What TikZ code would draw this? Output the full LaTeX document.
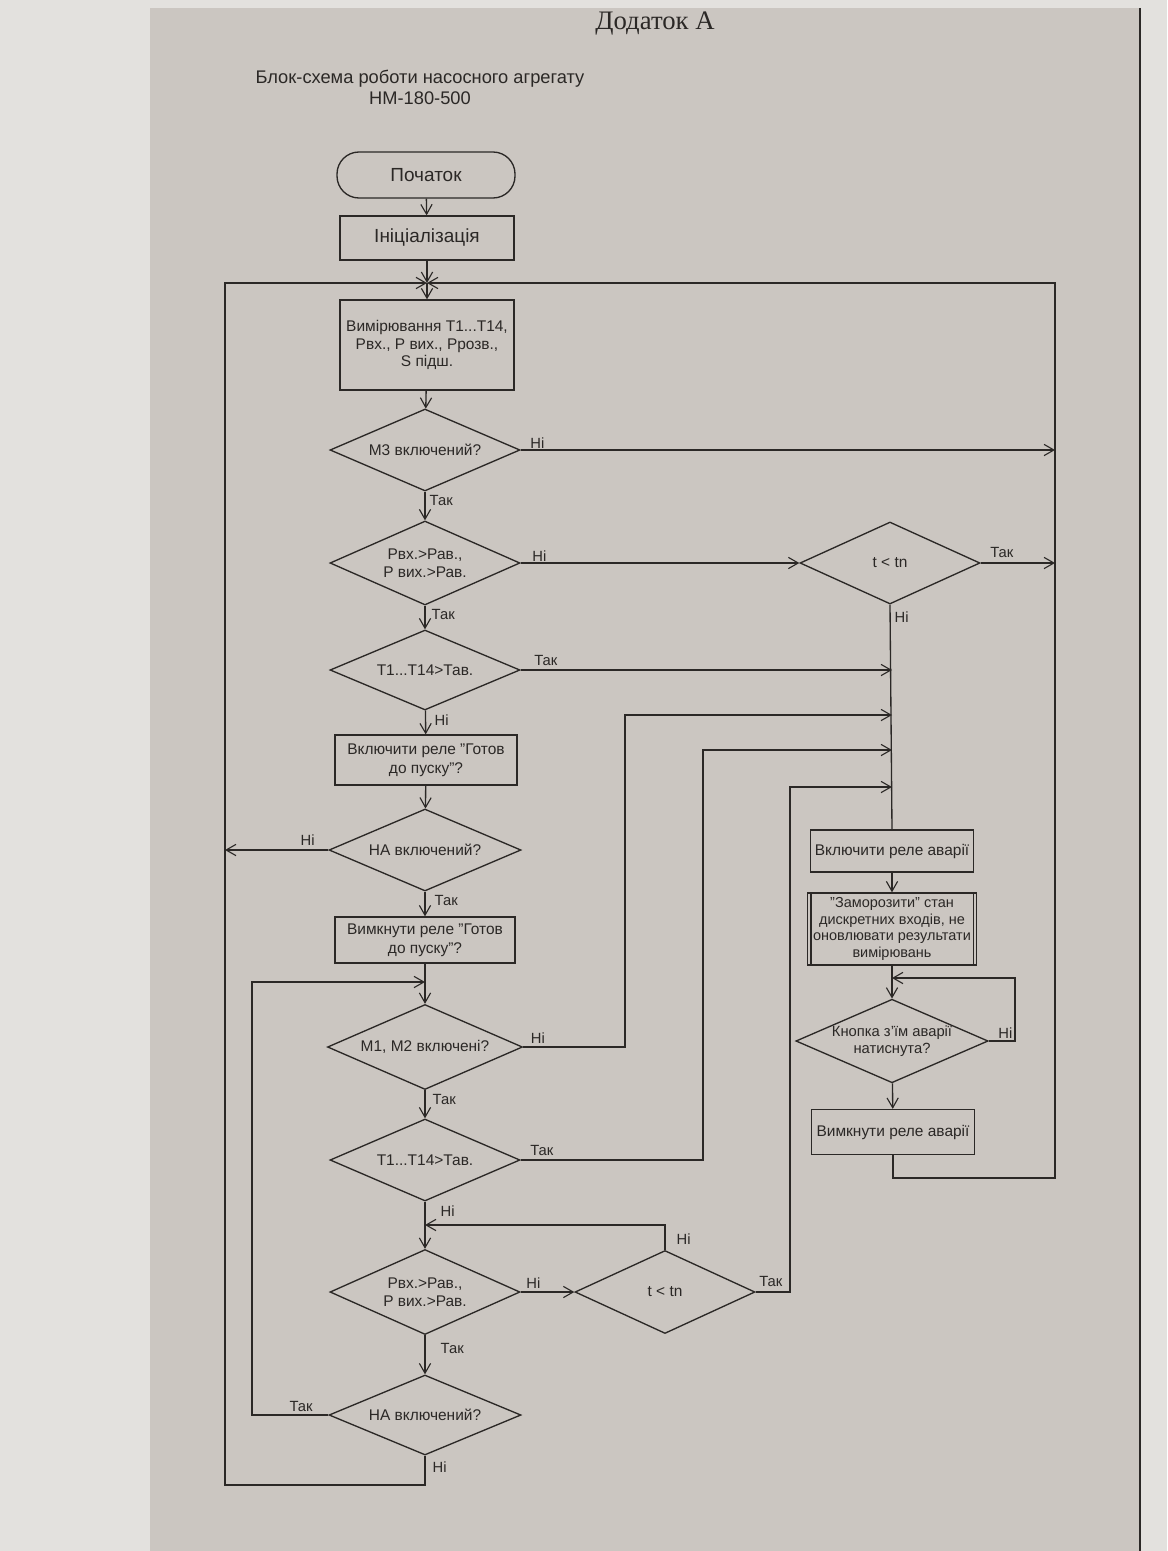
\documentclass[tikz,border=0pt]{standalone}
\usepackage{fontspec}
\setmainfont{Liberation Sans}
\newfontfamily\pageserif{Liberation Serif}
\usetikzlibrary{shapes.geometric,arrows.meta}
\newlength\pxu
\setlength\pxu{0.025cm}
\definecolor{ink}{HTML}{2B2826}
\definecolor{paper}{HTML}{CBC6C1}
\definecolor{margin}{HTML}{E3E1DE}
\tikzset{
  fl/.style={line width=0.95pt, draw=ink},
  arr/.style={fl, -{Straight Barb[length=7pt,width=8pt,line width=0.8pt]}},
  ln/.style={fl},
  box/.style={rectangle, draw=ink, line width=0.95pt, align=center, inner sep=2pt, text=ink,
    font=\fontsize{11}{13.5}\selectfont},
  term/.style={box, rounded corners=22\pxu, font=\fontsize{13.5}{16}\selectfont},
  dia/.style={diamond, draw=ink, line width=0.95pt, aspect=2.3, inner sep=0pt, align=center, text=ink,
    font=\fontsize{11}{13}\selectfont},
  lbl/.style={inner sep=1pt, text=ink, font=\fontsize{10.5}{12}\selectfont},
}
\begin{document}
\begin{tikzpicture}[x=0.025cm,y=-0.025cm]
\useasboundingbox (0,0) rectangle (1167,1551);
% page
\fill[margin] (0,0) rectangle (1167,1551);
\fill[paper] (150,8) rectangle (1140,1551);
\draw[ink, line width=2pt] (1140,8) -- (1140,1551);
\node[anchor=base, text=ink, font=\pageserif\fontsize{19}{22}\selectfont] (hdr) at (655,30) {Додаток А};
% title
\node[align=center, text=ink, font=\fontsize{13}{15}\selectfont] (title) at (420,87)
  {Блок-схема роботи насосного агрегату\\НМ-180-500};

% left column
\node[term, minimum width=178\pxu, minimum height=46\pxu] (start) at (426,175) {Початок};
\node[box, minimum width=174\pxu, minimum height=44\pxu, font=\fontsize{13.5}{16}\selectfont] (init) at (427,238) {Ініціалізація};
\coordinate (jtop) at (427,283);
\node[box, minimum width=174\pxu, minimum height=90\pxu, font=\fontsize{11}{12.5}\selectfont] (meas) at (427,345)
  {Вимірювання Т1...Т14,\\Рвх., Р вих., Ррозв.,\\S підш.};
\node[dia, minimum width=190\pxu, minimum height=82\pxu] (d1) at (425,450) {М3 включений?};
\node[dia, minimum width=190\pxu, minimum height=84\pxu] (d2) at (425,563) {Рвх.>Рав.,\\Р вих.>Рав.};
\node[dia, minimum width=190\pxu, minimum height=80\pxu] (d3) at (425,670) {Т1...Т14>Тав.};
\node[box, minimum width=182\pxu, minimum height=50\pxu] (rdy) at (426,760) {Включити реле "Готов\\до пуску"?};
\node[dia, minimum width=192\pxu, minimum height=82\pxu] (d4) at (425,850) {НА включений?};
\node[box, minimum width=180\pxu, minimum height=46\pxu] (off) at (425,940) {Вимкнути реле "Готов\\до пуску"?};
\coordinate (j2) at (425,982);
\node[dia, minimum width=195\pxu, minimum height=85\pxu] (d5) at (425,1047) {М1, М2 включені?};
\node[dia, minimum width=190\pxu, minimum height=82\pxu] (d6) at (425,1160) {Т1...Т14>Тав.};
\coordinate (j3) at (425,1225);
\node[dia, minimum width=190\pxu, minimum height=85\pxu] (d7) at (425,1292) {Рвх.>Рав.,\\Р вих.>Рав.};
\node[dia, minimum width=180\pxu, minimum height=83\pxu] (tn2) at (665,1292) {t < tn};
\node[dia, minimum width=192\pxu, minimum height=80\pxu] (d8) at (425,1415) {НА включений?};

% right part
\node[dia, minimum width=180\pxu, minimum height=82\pxu] (tn1) at (890,563) {t < tn};
\node[box, minimum width=163\pxu, minimum height=42\pxu] (alarm) at (892,851) {Включити реле аварії};
\node[box, minimum width=169\pxu, minimum height=72\pxu, inner sep=1pt, font=\fontsize{10.3}{11.7}\selectfont] (frz) at (892,929)
  {"Заморозити" стан\\дискретних входів, не\\оновлювати результати\\вимірювань};
\draw[ln] ([xshift=4\pxu]frz.north west) -- ([xshift=4\pxu]frz.south west);
\draw[ln] ([xshift=-4\pxu]frz.north east) -- ([xshift=-4\pxu]frz.south east);
\coordinate (j4) at (892,978);
\node[dia, minimum width=177\pxu, minimum height=83\pxu, font=\fontsize{10.5}{12.5}\selectfont] (btn) at (892,1041) {Кнопка з'їм аварії\\натиснута?};
\node[box, minimum width=163\pxu, minimum height=45\pxu] (aoff) at (893,1132) {Вимкнути реле аварії};

% helper coordinates
\coordinate (rvtop) at (1055,283);
\coordinate (rbot) at (1055,1178);
\coordinate (lv) at (225,283);
\coordinate (lbot) at (225,1485);
\coordinate (ilv) at (252,982);
\coordinate (c5) at (625,715);
\coordinate (c6) at (703,750);
\coordinate (c7) at (790,787);
\coordinate (bl) at (1015,978);

% connectors, main column
\draw[arr] (start) -- (init);
\draw[arr] (init.south) -- (jtop);
\draw[arr] (jtop) -- (meas.north);
\draw[arr] (meas) -- (d1);
\draw[arr] (d1.east) -- (d1.east -| rvtop);
\node[lbl, anchor=south west] (l1) at ([xshift=8\pxu]d1.east) {Ні};
\draw[arr] (d1) -- (d2);
\node[lbl, anchor=north west] (l2) at ([xshift=3\pxu,yshift=-2\pxu]d1.south) {Так};
\draw[arr] (d2.east) -- (tn1.west);
\node[lbl, anchor=south west] (l3) at ([xshift=10\pxu]d2.east) {Ні};
\draw[arr] (tn1.east) -- (tn1.east -| rvtop);
\node[lbl, anchor=south west] (l4) at ([xshift=8\pxu,yshift=4\pxu]tn1.east) {Так};
\draw[ln] (tn1.south) -- (alarm.north);
\node[lbl, anchor=north west] (l5) at ([xshift=3\pxu,yshift=-5\pxu]tn1.south) {Ні};
\draw[arr] (d2) -- (d3);
\node[lbl, anchor=north west] (l6) at ([xshift=5\pxu,yshift=-2\pxu]d2.south) {Так};
\draw[arr] (d3.east) -- (d3.east -| alarm.north);
\node[lbl, anchor=south west] (l7) at ([xshift=12\pxu,yshift=3\pxu]d3.east) {Так};
\draw[arr] (d3) -- (rdy);
\node[lbl, anchor=north west] (l8) at ([xshift=8\pxu,yshift=-2\pxu]d3.south) {Ні};
\draw[arr] (rdy) -- (d4);
\draw[arr] (d4.west) -- (d4.west -| lv);
\node[lbl, anchor=south east] (l9) at ([xshift=-12\pxu,yshift=3\pxu]d4.west) {Ні};
\draw[arr] (d4) -- (off);
\node[lbl, anchor=north west] (l10) at ([xshift=8\pxu,yshift=-2\pxu]d4.south) {Так};
\draw[ln] (off.south) -- (j2);
\draw[arr] (j2) -- (d5.north);
\draw[arr] (d5.east) -| (c5) -- (c5 -| alarm.north);
\node[lbl, anchor=south west] (l11) at ([xshift=6\pxu,yshift=2\pxu]d5.east) {Ні};
\draw[arr] (d5) -- (d6);
\node[lbl, anchor=north west] (l12) at ([xshift=6\pxu,yshift=-2\pxu]d5.south) {Так};
\draw[arr] (d6.east) -| (c6) -- (c6 -| alarm.north);
\node[lbl, anchor=south west] (l13) at ([xshift=8\pxu,yshift=3\pxu]d6.east) {Так};
\draw[ln] (d6.south) -- (j3);
\node[lbl, anchor=north west] (l14) at ([xshift=14\pxu,yshift=-2\pxu]d6.south) {Ні};
\draw[arr] (tn2.north) |- (j3);
\node[lbl, anchor=south west] (l15) at ([xshift=10\pxu,yshift=4\pxu]tn2.north) {Ні};
\draw[arr] (j3) -- (d7.north);
\draw[arr] (d7.east) -- (tn2.west);
\node[lbl, anchor=south west] (l16) at ([xshift=4\pxu,yshift=2\pxu]d7.east) {Ні};
\draw[arr] (tn2.east) -| (c7) -- (c7 -| alarm.north);
\node[lbl, anchor=south west] (l17) at ([xshift=2\pxu,yshift=4\pxu]tn2.east) {Так};
\draw[arr] (d7) -- (d8);
\node[lbl, anchor=north west] (l18) at ([xshift=14\pxu,yshift=-6\pxu]d7.south) {Так};
\draw[arr] (d8.west) -| (ilv) -- (j2);
\node[lbl, anchor=south east] (l19) at ([xshift=-14\pxu,yshift=2\pxu]d8.west) {Так};
\draw[arr] (d8.south) |- (lbot) -- (lv) -- (jtop);
\node[lbl, anchor=north west] (l20) at ([xshift=6\pxu,yshift=-4\pxu]d8.south) {Ні};

% right column
\draw[arr] (alarm) -- (frz);
\draw[ln] (frz.south) -- (j4);
\draw[arr] (j4) -- (btn.north);
\draw[arr] (btn.east) -| (bl) -- (j4);
\node[lbl, anchor=south west] (l21) at ([xshift=8\pxu,yshift=1\pxu]btn.east) {Ні};
\draw[arr] (btn) -- (aoff);
\draw[arr] (aoff.south) |- (rbot) -- (rvtop) -- (jtop);
\end{tikzpicture}
\end{document}
